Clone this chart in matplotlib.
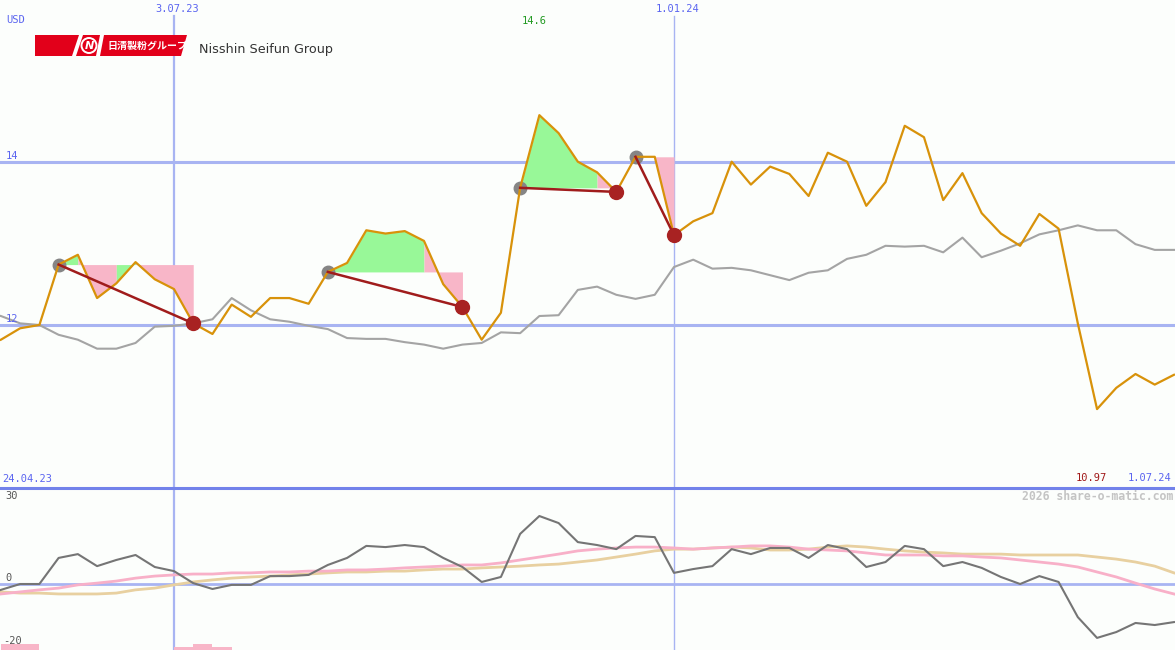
import matplotlib
matplotlib.use('Agg')
import matplotlib.pyplot as plt
from matplotlib.patches import Polygon, Circle
from matplotlib.lines import Line2D

# ---------------- data (weekly, 24.04.23 .. 1.07.24) ----------------
price = [11.74, 11.82, 11.96, 12.00, 12.74, 12.86, 12.33, 12.51, 12.77, 12.56,
         12.44, 12.02, 11.89, 12.25, 12.10, 12.33, 12.33, 12.26, 12.65, 12.76,
         13.16, 13.12, 13.15, 13.03, 12.50, 12.22, 11.82, 12.15, 13.68, 14.57,
         14.35, 14.00, 13.87, 13.63, 14.06, 14.06, 13.10, 13.27, 13.37, 14.00,
         13.72, 13.94, 13.85, 13.58, 14.11, 14.00, 13.46, 13.75, 14.44, 14.30,
         13.53, 13.86, 13.37, 13.12, 12.97, 13.36, 13.18, 12.02, 10.97, 11.23,
         11.40, 11.27, 11.39]
bench = [12.16, 12.11, 12.02, 12.00, 11.88, 11.82, 11.71, 11.71, 11.78, 11.98,
         11.99, 12.02, 12.07, 12.33, 12.18, 12.07, 12.04, 11.99, 11.95, 11.84,
         11.83, 11.83, 11.79, 11.76, 11.71, 11.76, 11.78, 11.91, 11.90, 12.11,
         12.12, 12.43, 12.47, 12.37, 12.32, 12.37, 12.71, 12.80, 12.69, 12.70,
         12.67, 12.61, 12.55, 12.64, 12.67, 12.81, 12.86, 12.97, 12.96, 12.97,
         12.89, 13.07, 12.83, 12.91, 13.00, 13.11, 13.16, 13.22, 13.16, 13.16,
         12.99, 12.92, 12.92]
osc = [-4.1, -2.0, 0.0, 0.0, 8.9, 10.2, 6.1, 8.2, 9.9, 5.8,
       4.4, 0.3, -1.7, -0.3, -0.3, 2.7, 2.7, 3.1, 6.5, 8.9,
       13.0, 12.6, 13.3, 12.6, 8.9, 5.8, 0.7, 2.4, 17.1, 23.2,
       20.8, 14.3, 13.3, 11.9, 16.4, 16.0, 3.8, 5.1, 6.1, 11.9,
       10.2, 12.3, 12.3, 8.9, 13.3, 11.9, 5.8, 7.5, 13.0, 11.9,
       6.1, 7.5, 5.5, 2.4, 0.0, 2.7, 0.7, -11.3, -18.4, -16.4,
       -13.3, -14.0, -13.0]
osc_pink = [-4.4, -3.4, -2.7, -2.0, -1.4, -0.3, 0.3, 1.0, 2.0, 2.7,
            3.1, 3.4, 3.4, 3.8, 3.8, 4.1, 4.1, 4.4, 4.4, 4.8,
            4.8, 5.1, 5.5, 5.8, 6.1, 6.5, 6.5, 7.2, 8.2, 9.2,
            10.2, 11.3, 11.9, 12.3, 12.6, 12.6, 12.3, 11.9, 12.3, 12.6,
            13.0, 13.0, 12.6, 11.9, 11.6, 11.3, 10.6, 9.9, 9.9, 9.9,
            9.6, 9.6, 9.2, 8.9, 8.2, 7.5, 6.8, 5.8, 4.1, 2.4,
            0.3, -1.7, -3.4]
osc_tan = [-2.7, -2.7, -3.1, -3.1, -3.4, -3.4, -3.4, -3.1, -2.0, -1.4,
           -0.3, 0.7, 1.4, 2.0, 2.4, 2.7, 3.1, 3.4, 3.8, 4.1,
           4.1, 4.4, 4.4, 4.8, 5.1, 5.1, 5.5, 5.8, 6.1, 6.5,
           6.8, 7.5, 8.2, 9.2, 10.2, 11.3, 11.9, 11.9, 12.3, 12.6,
           12.3, 11.6, 11.6, 11.9, 12.6, 13.0, 12.6, 11.9, 11.3, 10.9,
           10.6, 10.2, 10.2, 10.2, 9.9, 9.9, 9.9, 9.9, 9.2, 8.5,
           7.5, 6.1, 3.8]
bar_idx = [1, 2, 10, 11, 12]
bar_top = [-20.5, -20.5, -21.5, -20.5, -21.5]
entry_idx = [4, 18, 28, 34]
exit_idx = [11, 25, 33, 36]
x_marks = [10, 36]
x_mark_labels = ['3.07.23', '1.01.24']
start_label, end_label = '24.04.23', '1.07.24'
price_ticks = [14, 12]
osc_ticks = [30, 0, -20]
max_label, min_label = '14.6', '10.97'

# ---------------- layout ----------------
W, H = 1175, 650
BG = '#fcfefc'
BLUE_TXT = '#5a64f0'
GRID = '#a8b4f2'
GREEN_F = '#98f898'
PINK_F = '#f8b6c8'
fig = plt.figure(figsize=(W / 100, H / 100), dpi=100, facecolor=BG)

xlim = (18.3 / 19.23, (W + 18.3) / 19.23)
ax = fig.add_axes([0, 163 / H, 1, 487 / H])
ax2 = fig.add_axes([0, 0, 1, 163 / H])
for a in (ax, ax2):
    a.set_xlim(*xlim)
    a.axis('off')
ax.set_ylim(12 - 162 / 81.65, 12 + 325 / 81.65)
ax2.set_ylim((584 - 650) / 2.93, (584 - 487) / 2.93)

idx = list(range(len(price)))

# grid
for tk in price_ticks:
    ax.axhline(tk, color=GRID, lw=2.2, zorder=1)
ax2.axhline(0, color=GRID, lw=2, zorder=1)
ax.axvline(x_marks[0], ymin=0, ymax=1 - 16 / 487, color=GRID, lw=1.6, zorder=1)
ax.axvline(x_marks[1], ymin=0, ymax=1 - 16 / 487, color=GRID, lw=1.0, zorder=1)
ax2.axvline(x_marks[0], color=GRID, lw=1.6, zorder=1)
ax2.axvline(x_marks[1], color=GRID, lw=1.0, zorder=1)
fig.add_artist(Line2D([0, 1], [1 - 487.5 / H] * 2, color='#7282ea', lw=2.2))

# trade fills: contiguous runs of equal colour drawn as single polygons
for e, x in zip(entry_idx, exit_idx):
    base = price[e]
    cols = [GREEN_F if price[j + 1] >= base else PINK_F for j in range(e, x)]
    start = e
    for k in range(len(cols)):
        j = e + k
        if k == len(cols) - 1 or cols[k + 1] != cols[k]:
            xs = list(range(start, j + 2))
            ax.fill_between(xs, price[start:j + 2], base, color=cols[k],
                            lw=0, zorder=2)
            start = j + 1

ax.plot(idx, bench, color='#a4a4a4', lw=1.5, zorder=3)
for e in entry_idx:
    ax.plot(e, price[e], 'o', ms=9, color='#858585', zorder=4)
ax.plot(idx, price, color='#d8920a', lw=1.6, zorder=5)
for e, x in zip(entry_idx, exit_idx):
    ax.plot([e, x], [price[e], price[x]], color='#a01c1c', lw=1.8, zorder=6)
    ax.plot(x, price[x], 'o', ms=10, color='#a82222', zorder=7)

# lower panel
y0 = ax2.get_ylim()[0]
ax2.bar(bar_idx, [tp - y0 for tp in bar_top], bottom=y0,
        width=1, align='edge', color=PINK_F, lw=0, zorder=2)
ax2.plot(idx, osc_tan, color='#e8d0a0', lw=2, zorder=3)
ax2.plot(idx, osc_pink, color='#f8b0c8', lw=2, zorder=3)
ax2.plot(idx, osc, color='#757575', lw=1.5, zorder=4)

# overlay in pixel coordinates for texts / logo
ov = fig.add_axes([0, 0, 1, 1], facecolor='none')
ov.set_xlim(0, W)
ov.set_ylim(H, 0)
ov.axis('off')

mono = 'DejaVu Sans Mono'
def t(x, y, s, color, ha='left', size=7.5, **kw):
    ov.text(x, y, s, color=color, ha=ha, va='center', fontsize=size, family=mono, **kw)

t(6, 20, 'USD', BLUE_TXT)
t(177, 9, x_mark_labels[0], BLUE_TXT, ha='center')
t(678, 9, x_mark_labels[1], BLUE_TXT, ha='center')
t(534, 21, max_label, '#229a22', ha='center')
t(6, 156, str(price_ticks[0]), BLUE_TXT)
t(6, 319, str(price_ticks[1]), BLUE_TXT)
t(2, 479, start_label, BLUE_TXT)
t(1091, 478, min_label, '#a01818', ha='center')
t(1171, 478, end_label, BLUE_TXT, ha='right')
t(1173, 496, '2026 share-o-matic.com', '#c4c4c4', ha='right', size=8.3, weight='bold')
t(5, 496, str(osc_ticks[0]), '#555555')
t(5, 578, str(osc_ticks[1]), '#555555')
t(3, 641, str(osc_ticks[2]), '#555555')

# logo
ov.add_patch(Polygon([(35, 35), (187, 35), (181, 56), (35, 56)], closed=True,
                     color='#e2001a', lw=0, zorder=10))
ov.add_patch(Polygon([(72, 56), (76, 56), (83, 35), (79, 35)], closed=True,
                     color='white', lw=0, zorder=11))
ov.add_patch(Polygon([(96, 56), (100, 56), (104, 35), (100, 35)], closed=True,
                     color='white', lw=0, zorder=11))
ov.add_patch(Circle((89, 45.5), 7.5, fill=False, ec='white', lw=1.4, zorder=11))
ov.text(89, 46, 'N', color='white', fontsize=8, weight='bold', style='italic',
        ha='center', va='center', zorder=12, family='DejaVu Sans')
ov.text(107, 46, '日清製粉グループ', color='white', fontsize=7.2, weight='bold',
        ha='left', va='center', zorder=12, family=['Noto Sans CJK JP', 'DejaVu Sans'])
ov.text(199, 50, 'Nisshin Seifun Group', color='#333333', fontsize=9.2,
        ha='left', va='center', family='DejaVu Sans', zorder=12)

fig.savefig('out.png', dpi=100, facecolor=BG)
